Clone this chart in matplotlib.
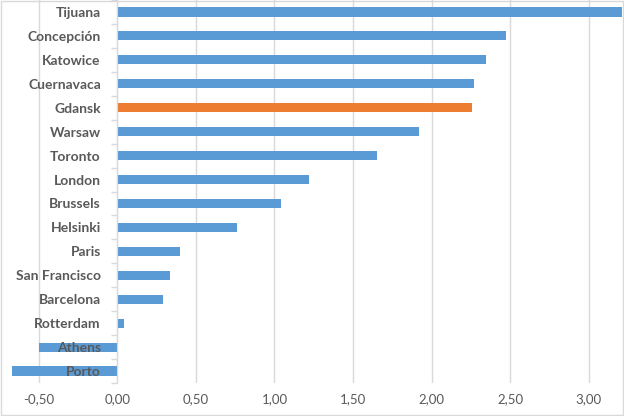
import numpy as np
import matplotlib
matplotlib.use("Agg")
import matplotlib.pyplot as plt
from matplotlib.ticker import FuncFormatter

cities = ["Tijuana", "Concepción", "Katowice", "Cuernavaca", "Gdansk", "Warsaw",
          "Toronto", "London", "Brussels", "Helsinki", "Paris", "San Francisco",
          "Barcelona", "Rotterdam", "Athens", "Porto"]
values = [3.21, 2.475, 2.347, 2.27, 2.258, 1.92, 1.653, 1.22, 1.04, 0.761,
          0.398, 0.334, 0.29, 0.041, -0.50, -0.672]
highlight = "Gdansk"

BLUE = "#5B9BD5"
ORANGE = "#ED7D31"
GRID = "#D9D9D9"
TXT = "#595959"

plt.rcParams["font.family"] = ["Lato", "DejaVu Sans"]

fig = plt.figure(figsize=(6.24, 4.16), dpi=100)
ax = fig.add_axes([0, 33 / 416, 622 / 624, 383 / 416])

y = np.arange(len(cities))
colors = [ORANGE if c == highlight else BLUE for c in cities]
ax.barh(y, values, height=0.38, color=colors, zorder=3)

ax.set_ylim(len(cities) - 0.5, -0.5)
ax.set_xlim(-0.748, 3.213)
ax.set_xticks(np.arange(-0.5, 3.01, 0.5))
ax.xaxis.set_major_formatter(FuncFormatter(lambda v, p: f"{v:.2f}".replace(".", ",")))
ax.tick_params(axis="x", length=0, pad=7, labelsize=9.5, labelcolor=TXT)
ax.grid(axis="x", color=GRID, linewidth=1)

# category axis sitting on zero
for s in ("top", "right", "bottom"):
    ax.spines[s].set_visible(False)
ax.spines["left"].set_position(("data", 0))
ax.spines["left"].set_color(GRID)
ax.spines["left"].set_zorder(4)
ax.set_yticks(y)
ax.set_yticklabels(cities, fontweight="bold")
ax.tick_params(axis="y", which="major", length=0, pad=12, labelsize=10, labelcolor=TXT)
ax.set_yticks(np.arange(-0.5, len(cities), 1), minor=True)
ax.tick_params(axis="y", which="minor", length=4, color=GRID, width=1)

# grid under the bars, city names over them (Athens, Porto)
ax.xaxis.set_zorder(0.5)
ax.yaxis.set_zorder(5)

# outer chart border
fig.patches.append(plt.Rectangle((0.001, 0.002), 0.997, 0.996, transform=fig.transFigure,
                                 fill=False, edgecolor=GRID, linewidth=1))

fig.savefig("out.png", dpi=100)
